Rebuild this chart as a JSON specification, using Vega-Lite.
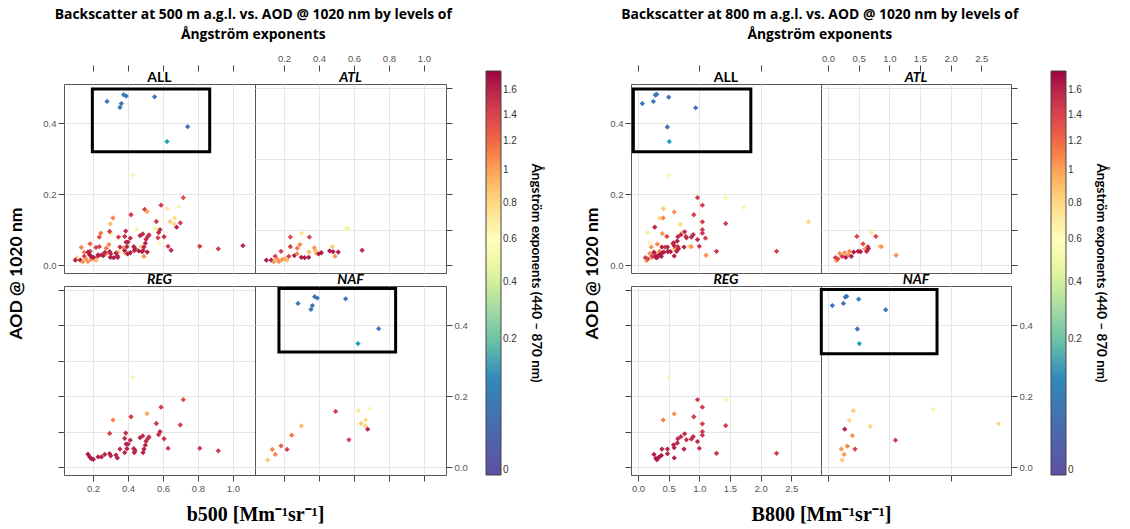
{
  "$schema": "https://vega.github.io/schema/vega-lite/v6.json",
  "padding": {"left": 6, "top": 7, "right": 5, "bottom": 5},
  "config": {
    "view": {"stroke": "#555", "strokeWidth": 1},
    "axis": {"labelFont": "Liberation Sans", "labelFontSize": 9.5, "labelColor": "#555", "tickColor": "#444", "tickSize": 6, "domain": false, "gridColor": "#e6e6e6", "labelFlush": false, "labelOverlap": false, "titleFont": "Lato", "titleFontWeight": "bold", "titleFontSize": 17.5, "titleColor": "#000"},
    "legend": {"labelFont": "Liberation Sans", "labelFontSize": 10, "labelColor": "#333", "labelOffset": 8, "titleFont": "Lato", "titleFontSize": 13.5, "titleFontWeight": "bold", "titleColor": "#000", "titlePadding": 12, "gradientLength": 404, "gradientThickness": 15, "gradientStrokeColor": "#444", "gradientStrokeWidth": 1, "titleLimit": 600},
    "title": {"font": "Open Sans", "fontSize": 13.9, "fontWeight": "bold", "color": "#000", "anchor": "middle", "frame": "bounds", "lineHeight": 20, "offset": 11}
  },
  "datasets": {
    "b500": [
      {"region": "NAF", "b": 0.28, "aod": 0.461, "ae": 0.08},
      {"region": "NAF", "b": 0.375, "aod": 0.48, "ae": 0.08},
      {"region": "NAF", "b": 0.39, "aod": 0.476, "ae": 0.08},
      {"region": "NAF", "b": 0.362, "aod": 0.455, "ae": 0.08},
      {"region": "NAF", "b": 0.354, "aod": 0.444, "ae": 0.08},
      {"region": "NAF", "b": 0.552, "aod": 0.474, "ae": 0.08},
      {"region": "NAF", "b": 0.741, "aod": 0.39, "ae": 0.08},
      {"region": "NAF", "b": 0.623, "aod": 0.348, "ae": 0.13},
      {"region": "NAF", "b": 0.107, "aod": 0.0205, "ae": 0.85},
      {"region": "NAF", "b": 0.133, "aod": 0.05, "ae": 1.1},
      {"region": "NAF", "b": 0.15, "aod": 0.036, "ae": 1.1},
      {"region": "NAF", "b": 0.183, "aod": 0.06, "ae": 1.25},
      {"region": "NAF", "b": 0.217, "aod": 0.05, "ae": 1.43},
      {"region": "NAF", "b": 0.244, "aod": 0.09, "ae": 1.15},
      {"region": "NAF", "b": 0.299, "aod": 0.116, "ae": 0.9},
      {"region": "NAF", "b": 0.495, "aod": 0.157, "ae": 1.43},
      {"region": "NAF", "b": 0.571, "aod": 0.077, "ae": 1.43},
      {"region": "NAF", "b": 0.625, "aod": 0.159, "ae": 0.72},
      {"region": "NAF", "b": 0.69, "aod": 0.164, "ae": 0.65},
      {"region": "NAF", "b": 0.667, "aod": 0.133, "ae": 0.78},
      {"region": "NAF", "b": 0.64, "aod": 0.123, "ae": 0.85},
      {"region": "NAF", "b": 0.663, "aod": 0.116, "ae": 0.8},
      {"region": "NAF", "b": 0.678, "aod": 0.107, "ae": 1.6},
      {"region": "ATL", "b": 0.099, "aod": 0.014, "ae": 1.65},
      {"region": "ATL", "b": 0.127, "aod": 0.014, "ae": 1.65},
      {"region": "ATL", "b": 0.141, "aod": 0.01, "ae": 1.05},
      {"region": "ATL", "b": 0.15, "aod": 0.025, "ae": 1.43},
      {"region": "ATL", "b": 0.16, "aod": 0.018, "ae": 1.05},
      {"region": "ATL", "b": 0.171, "aod": 0.01, "ae": 1.05},
      {"region": "ATL", "b": 0.183, "aod": 0.039, "ae": 1.43},
      {"region": "ATL", "b": 0.19, "aod": 0.016, "ae": 1.05},
      {"region": "ATL", "b": 0.206, "aod": 0.018, "ae": 1.0},
      {"region": "ATL", "b": 0.217, "aod": 0.014, "ae": 0.92},
      {"region": "ATL", "b": 0.227, "aod": 0.025, "ae": 1.43},
      {"region": "ATL", "b": 0.236, "aod": 0.079, "ae": 1.35},
      {"region": "ATL", "b": 0.236, "aod": 0.052, "ae": 1.43},
      {"region": "ATL", "b": 0.259, "aod": 0.027, "ae": 1.65},
      {"region": "ATL", "b": 0.274, "aod": 0.032, "ae": 1.1},
      {"region": "ATL", "b": 0.276, "aod": 0.048, "ae": 1.15},
      {"region": "ATL", "b": 0.291, "aod": 0.058, "ae": 1.1},
      {"region": "ATL", "b": 0.301, "aod": 0.09, "ae": 0.75},
      {"region": "ATL", "b": 0.299, "aod": 0.022, "ae": 1.65},
      {"region": "ATL", "b": 0.318, "aod": 0.021, "ae": 1.65},
      {"region": "ATL", "b": 0.341, "aod": 0.022, "ae": 1.65},
      {"region": "ATL", "b": 0.343, "aod": 0.037, "ae": 0.92},
      {"region": "ATL", "b": 0.345, "aod": 0.079, "ae": 1.4},
      {"region": "ATL", "b": 0.373, "aod": 0.049, "ae": 1.05},
      {"region": "ATL", "b": 0.379, "aod": 0.041, "ae": 0.92},
      {"region": "ATL", "b": 0.385, "aod": 0.033, "ae": 0.92},
      {"region": "ATL", "b": 0.398, "aod": 0.032, "ae": 1.65},
      {"region": "ATL", "b": 0.413, "aod": 0.035, "ae": 1.65},
      {"region": "ATL", "b": 0.461, "aod": 0.04, "ae": 1.65},
      {"region": "ATL", "b": 0.48, "aod": 0.038, "ae": 1.65},
      {"region": "ATL", "b": 0.476, "aod": 0.052, "ae": 0.85},
      {"region": "ATL", "b": 0.491, "aod": 0.025, "ae": 1.05},
      {"region": "ATL", "b": 0.51, "aod": 0.037, "ae": 1.65},
      {"region": "ATL", "b": 0.55, "aod": 0.102, "ae": 0.62},
      {"region": "ATL", "b": 0.562, "aod": 0.103, "ae": 0.48},
      {"region": "ATL", "b": 0.646, "aod": 0.042, "ae": 1.55},
      {"region": "REG", "b": 0.171, "aod": 0.0365, "ae": 1.65},
      {"region": "REG", "b": 0.181, "aod": 0.029, "ae": 1.65},
      {"region": "REG", "b": 0.19, "aod": 0.024, "ae": 1.65},
      {"region": "REG", "b": 0.202, "aod": 0.022, "ae": 1.65},
      {"region": "REG", "b": 0.229, "aod": 0.029, "ae": 1.62},
      {"region": "REG", "b": 0.248, "aod": 0.029, "ae": 1.62},
      {"region": "REG", "b": 0.267, "aod": 0.036, "ae": 1.6},
      {"region": "REG", "b": 0.295, "aod": 0.038, "ae": 1.6},
      {"region": "REG", "b": 0.301, "aod": 0.032, "ae": 1.6},
      {"region": "REG", "b": 0.295, "aod": 0.095, "ae": 1.45},
      {"region": "REG", "b": 0.314, "aod": 0.133, "ae": 1.1},
      {"region": "REG", "b": 0.331, "aod": 0.034, "ae": 1.6},
      {"region": "REG", "b": 0.339, "aod": 0.026, "ae": 1.6},
      {"region": "REG", "b": 0.354, "aod": 0.051, "ae": 1.55},
      {"region": "REG", "b": 0.381, "aod": 0.041, "ae": 1.6},
      {"region": "REG", "b": 0.387, "aod": 0.096, "ae": 1.55},
      {"region": "REG", "b": 0.381, "aod": 0.081, "ae": 1.55},
      {"region": "REG", "b": 0.389, "aod": 0.065, "ae": 1.6},
      {"region": "REG", "b": 0.394, "aod": 0.052, "ae": 1.6},
      {"region": "REG", "b": 0.4, "aod": 0.065, "ae": 1.6},
      {"region": "REG", "b": 0.413, "aod": 0.076, "ae": 1.55},
      {"region": "REG", "b": 0.417, "aod": 0.142, "ae": 1.45},
      {"region": "REG", "b": 0.427, "aod": 0.253, "ae": 0.65},
      {"region": "REG", "b": 0.433, "aod": 0.052, "ae": 1.6},
      {"region": "REG", "b": 0.436, "aod": 0.041, "ae": 1.6},
      {"region": "REG", "b": 0.44, "aod": 0.047, "ae": 1.6},
      {"region": "REG", "b": 0.469, "aod": 0.083, "ae": 1.6},
      {"region": "REG", "b": 0.484, "aod": 0.088, "ae": 1.55},
      {"region": "REG", "b": 0.486, "aod": 0.041, "ae": 1.6},
      {"region": "REG", "b": 0.491, "aod": 0.051, "ae": 1.6},
      {"region": "REG", "b": 0.499, "aod": 0.062, "ae": 1.6},
      {"region": "REG", "b": 0.503, "aod": 0.073, "ae": 1.55},
      {"region": "REG", "b": 0.514, "aod": 0.081, "ae": 1.55},
      {"region": "REG", "b": 0.52, "aod": 0.085, "ae": 1.5},
      {"region": "REG", "b": 0.509, "aod": 0.151, "ae": 1.0},
      {"region": "REG", "b": 0.562, "aod": 0.123, "ae": 1.45},
      {"region": "REG", "b": 0.575, "aod": 0.092, "ae": 1.55},
      {"region": "REG", "b": 0.583, "aod": 0.1, "ae": 1.55},
      {"region": "REG", "b": 0.589, "aod": 0.169, "ae": 1.45},
      {"region": "REG", "b": 0.606, "aod": 0.08, "ae": 1.5},
      {"region": "REG", "b": 0.629, "aod": 0.053, "ae": 1.45},
      {"region": "REG", "b": 0.699, "aod": 0.119, "ae": 1.45},
      {"region": "REG", "b": 0.716, "aod": 0.19, "ae": 1.35},
      {"region": "REG", "b": 0.81, "aod": 0.053, "ae": 1.45},
      {"region": "REG", "b": 0.916, "aod": 0.046, "ae": 1.45},
      {"region": "OTH", "b": 1.057, "aod": 0.055, "ae": 1.6},
      {"region": "OTH", "b": 0.58, "aod": 0.061, "ae": 0.62},
      {"region": "OTH", "b": 0.451, "aod": 0.1, "ae": 0.5}
    ],
    "b800": [
      {"region": "NAF", "b": 0.07, "aod": 0.455, "ae": 0.08},
      {"region": "NAF", "b": 0.25, "aod": 0.461, "ae": 0.08},
      {"region": "NAF", "b": 0.282, "aod": 0.479, "ae": 0.08},
      {"region": "NAF", "b": 0.305, "aod": 0.481, "ae": 0.08},
      {"region": "NAF", "b": 0.5, "aod": 0.473, "ae": 0.08},
      {"region": "NAF", "b": 0.94, "aod": 0.443, "ae": 0.08},
      {"region": "NAF", "b": 0.478, "aod": 0.389, "ae": 0.08},
      {"region": "NAF", "b": 0.51, "aod": 0.348, "ae": 0.13},
      {"region": "NAF", "b": 0.228, "aod": 0.02, "ae": 0.85},
      {"region": "NAF", "b": 0.261, "aod": 0.036, "ae": 1.05},
      {"region": "NAF", "b": 0.217, "aod": 0.051, "ae": 1.05},
      {"region": "NAF", "b": 0.315, "aod": 0.059, "ae": 1.1},
      {"region": "NAF", "b": 0.44, "aod": 0.051, "ae": 1.43},
      {"region": "NAF", "b": 0.397, "aod": 0.089, "ae": 1.05},
      {"region": "NAF", "b": 0.272, "aod": 0.107, "ae": 1.6},
      {"region": "NAF", "b": 0.348, "aod": 0.132, "ae": 0.8},
      {"region": "NAF", "b": 0.413, "aod": 0.159, "ae": 0.85},
      {"region": "NAF", "b": 0.69, "aod": 0.115, "ae": 0.8},
      {"region": "NAF", "b": 1.1, "aod": 0.076, "ae": 1.43},
      {"region": "NAF", "b": 1.72, "aod": 0.163, "ae": 0.65},
      {"region": "NAF", "b": 2.78, "aod": 0.122, "ae": 0.8},
      {"region": "ATL", "b": 0.12, "aod": 0.021, "ae": 1.45},
      {"region": "ATL", "b": 0.14, "aod": 0.013, "ae": 1.05},
      {"region": "ATL", "b": 0.16, "aod": 0.018, "ae": 1.4},
      {"region": "ATL", "b": 0.19, "aod": 0.033, "ae": 1.05},
      {"region": "ATL", "b": 0.23, "aod": 0.025, "ae": 1.45},
      {"region": "ATL", "b": 0.27, "aod": 0.035, "ae": 1.05},
      {"region": "ATL", "b": 0.29, "aod": 0.022, "ae": 1.65},
      {"region": "ATL", "b": 0.33, "aod": 0.029, "ae": 1.05},
      {"region": "ATL", "b": 0.35, "aod": 0.039, "ae": 1.1},
      {"region": "ATL", "b": 0.38, "aod": 0.025, "ae": 1.65},
      {"region": "ATL", "b": 0.42, "aod": 0.037, "ae": 1.65},
      {"region": "ATL", "b": 0.47, "aod": 0.081, "ae": 1.4},
      {"region": "ATL", "b": 0.49, "aod": 0.039, "ae": 1.65},
      {"region": "ATL", "b": 0.53, "aod": 0.038, "ae": 1.65},
      {"region": "ATL", "b": 0.57, "aod": 0.06, "ae": 1.35},
      {"region": "ATL", "b": 0.6, "aod": 0.046, "ae": 1.0},
      {"region": "ATL", "b": 0.63, "aod": 0.039, "ae": 1.6},
      {"region": "ATL", "b": 0.65, "aod": 0.052, "ae": 1.45},
      {"region": "ATL", "b": 0.66, "aod": 0.046, "ae": 1.6},
      {"region": "ATL", "b": 0.71, "aod": 0.092, "ae": 0.72},
      {"region": "ATL", "b": 0.78, "aod": 0.081, "ae": 1.4},
      {"region": "ATL", "b": 0.84, "aod": 0.053, "ae": 0.8},
      {"region": "ATL", "b": 0.87, "aod": 0.052, "ae": 1.05},
      {"region": "ATL", "b": 1.11, "aod": 0.028, "ae": 1.05},
      {"region": "REG", "b": 0.26, "aod": 0.036, "ae": 1.65},
      {"region": "REG", "b": 0.29, "aod": 0.025, "ae": 1.65},
      {"region": "REG", "b": 0.31, "aod": 0.021, "ae": 1.65},
      {"region": "REG", "b": 0.34, "aod": 0.028, "ae": 1.65},
      {"region": "REG", "b": 0.38, "aod": 0.033, "ae": 1.65},
      {"region": "REG", "b": 0.39, "aod": 0.051, "ae": 1.6},
      {"region": "REG", "b": 0.41, "aod": 0.133, "ae": 1.1},
      {"region": "REG", "b": 0.48, "aod": 0.038, "ae": 1.6},
      {"region": "REG", "b": 0.48, "aod": 0.051, "ae": 1.6},
      {"region": "REG", "b": 0.5, "aod": 0.253, "ae": 0.65},
      {"region": "REG", "b": 0.58, "aod": 0.063, "ae": 1.6},
      {"region": "REG", "b": 0.59, "aod": 0.055, "ae": 1.6},
      {"region": "REG", "b": 0.59, "aod": 0.026, "ae": 1.6},
      {"region": "REG", "b": 0.59, "aod": 0.15, "ae": 1.05},
      {"region": "REG", "b": 0.64, "aod": 0.068, "ae": 1.6},
      {"region": "REG", "b": 0.65, "aod": 0.08, "ae": 1.55},
      {"region": "REG", "b": 0.7, "aod": 0.086, "ae": 1.55},
      {"region": "REG", "b": 0.75, "aod": 0.051, "ae": 1.6},
      {"region": "REG", "b": 0.76, "aod": 0.094, "ae": 1.55},
      {"region": "REG", "b": 0.79, "aod": 0.077, "ae": 1.55},
      {"region": "REG", "b": 0.87, "aod": 0.079, "ae": 1.55},
      {"region": "REG", "b": 0.9, "aod": 0.086, "ae": 1.55},
      {"region": "REG", "b": 0.91, "aod": 0.142, "ae": 1.45},
      {"region": "REG", "b": 0.97, "aod": 0.072, "ae": 1.55},
      {"region": "REG", "b": 0.97, "aod": 0.19, "ae": 1.45},
      {"region": "REG", "b": 1.0, "aod": 0.053, "ae": 1.5},
      {"region": "REG", "b": 1.05, "aod": 0.169, "ae": 1.45},
      {"region": "REG", "b": 1.05, "aod": 0.122, "ae": 1.45},
      {"region": "REG", "b": 1.05, "aod": 0.1, "ae": 1.45},
      {"region": "REG", "b": 1.05, "aod": 0.09, "ae": 1.5},
      {"region": "REG", "b": 1.28, "aod": 0.039, "ae": 1.5},
      {"region": "REG", "b": 1.43, "aod": 0.19, "ae": 0.65},
      {"region": "REG", "b": 1.43, "aod": 0.117, "ae": 1.45},
      {"region": "REG", "b": 2.26, "aod": 0.039, "ae": 1.45},
      {"region": "OTH", "b": 0.16, "aod": 0.091, "ae": 0.45},
      {"region": "OTH", "b": 0.18, "aod": 0.063, "ae": 0.65}
    ],
    "boxes": [
      {"chart": "L", "panel": "ALL", "x1": 0.196, "x2": 0.867, "y1": 0.319, "y2": 0.496},
      {"chart": "L", "panel": "NAF", "x1": 0.171, "x2": 0.838, "y1": 0.324, "y2": 0.503},
      {"chart": "R", "panel": "ALL", "x1": -0.077, "x2": 1.84, "y1": 0.319, "y2": 0.496},
      {"chart": "R", "panel": "NAF", "x1": -0.11, "x2": 1.778, "y1": 0.319, "y2": 0.5}
    ]
  },
  "hconcat": [
    {
      "title": {"text": ["Backscatter at 500 m a.g.l. vs. AOD @ 1020 nm by levels of", "Ångström exponents"], "dx": -22},
      "columns": 2,
      "spacing": 0,
      "bounds": "flush",
      "concat": [
        {"width": 191, "height": 13, "data": {"values": [{"p": "ALL"}]}, "mark": {"type": "text", "font": "Lato", "fontSize": 14, "fontWeight": "bold"}, "encoding": {"text": {"field": "p"}}},
        {"width": 191, "height": 13, "data": {"values": [{"p": "ATL"}]}, "mark": {"type": "text", "font": "Lato", "fontSize": 14, "fontWeight": "bold", "fontStyle": "italic"}, "encoding": {"text": {"field": "p"}}},
        {
          "width": 191, "height": 189,
          "layer": [
            {"data": {"name": "b500"}, "mark": {"type": "point", "shape": "diamond", "filled": true, "size": 28, "opacity": 1},
             "encoding": {
               "x": {"field": "b", "type": "quantitative", "scale": {"domain": [0.034, 1.126], "nice": false, "zero": false}, "axis": {"orient": "top", "offset": 13, "values": [0.2, 0.4, 0.6, 0.8, 1.0], "labels": false, "title": null, "grid": true}},
               "y": {"field": "aod", "type": "quantitative", "scale": {"domain": [-0.022, 0.51], "nice": false, "zero": false}, "axis": {"orient": "left", "values": [0, 0.1, 0.2, 0.3, 0.4, 0.5], "labelExpr": "datum.value > 0.45 ? '' : format(datum.value, '.1f')", "title": "AOD @ 1020 nm", "titleX": -48, "titleY": 189, "titleAngle": 270, "titleAlign": "center", "titleBaseline": "middle", "grid": true}},
               "color": {"field": "ae", "type": "quantitative", "title": "Ångström exponents (440 – 870 nm)", "scale": {"type": "sqrt", "domain": [0, 0.051, 0.1, 0.19, 0.31, 0.44, 0.59, 0.77, 0.96, 1.18, 1.43, 1.76], "range": ["#5E4FA2", "#5E4FA2", "#3288BD", "#66C2A5", "#ABDDA4", "#E6F598", "#FFFFBF", "#FEE08B", "#FDAE61", "#F46D43", "#D53E4F", "#9E0142"]}, "legend": {"values": [0, 0.2, 0.4, 0.6, 0.8, 1, 1.2, 1.4, 1.6], "labelExpr": "format(datum.value, '~g')", "titleOrient": "right", "titleAnchor": "middle", "encode": {"title": {"update": {"angle": {"value": -90}, "baseline": {"value": "top"}}}}}}
             }},
            {"data": {"name": "boxes"}, "transform": [{"filter": "datum.chart == 'L' && datum.panel == 'ALL'"}], "mark": {"type": "rect", "filled": false, "stroke": "#000", "strokeWidth": 3},
             "encoding": {"x": {"field": "x1", "type": "quantitative"}, "x2": {"field": "x2"}, "y": {"field": "y1", "type": "quantitative"}, "y2": {"field": "y2"}}}
          ]
        },
        {
          "width": 191, "height": 189,
          "layer": [
            {"data": {"name": "b500"}, "transform": [{"filter": "datum.region == 'ATL'"}], "mark": {"type": "point", "shape": "diamond", "filled": true, "size": 28, "opacity": 1},
             "encoding": {
               "x": {"field": "b", "type": "quantitative", "scale": {"domain": [0.034, 1.126], "nice": false, "zero": false}, "axis": {"orient": "top", "offset": 13, "values": [0.2, 0.4, 0.6, 0.8, 1.0], "format": ".1f", "title": null, "grid": true}},
               "y": {"field": "aod", "type": "quantitative", "scale": {"domain": [-0.022, 0.51], "nice": false, "zero": false}, "axis": {"orient": "right", "values": [0, 0.1, 0.2, 0.3, 0.4, 0.5], "labels": false, "title": null, "grid": true}},
               "color": {"field": "ae", "type": "quantitative", "title": "Ångström exponents (440 – 870 nm)", "scale": {"type": "sqrt", "domain": [0, 0.051, 0.1, 0.19, 0.31, 0.44, 0.59, 0.77, 0.96, 1.18, 1.43, 1.76], "range": ["#5E4FA2", "#5E4FA2", "#3288BD", "#66C2A5", "#ABDDA4", "#E6F598", "#FFFFBF", "#FEE08B", "#FDAE61", "#F46D43", "#D53E4F", "#9E0142"]}}
             }}
          ]
        },
        {"width": 191, "height": 13, "data": {"values": [{"p": "REG"}]}, "mark": {"type": "text", "font": "Lato", "fontSize": 14, "fontWeight": "bold", "fontStyle": "italic"}, "encoding": {"text": {"field": "p"}}},
        {"width": 191, "height": 13, "data": {"values": [{"p": "NAF"}]}, "mark": {"type": "text", "font": "Lato", "fontSize": 14, "fontWeight": "bold", "fontStyle": "italic"}, "encoding": {"text": {"field": "p"}}},
        {
          "width": 191, "height": 189,
          "layer": [
            {"data": {"name": "b500"}, "transform": [{"filter": "datum.region == 'REG'"}], "mark": {"type": "point", "shape": "diamond", "filled": true, "size": 28, "opacity": 1},
             "encoding": {
               "x": {"field": "b", "type": "quantitative", "scale": {"domain": [0.034, 1.126], "nice": false, "zero": false}, "axis": {"orient": "bottom", "values": [0.2, 0.4, 0.6, 0.8, 1.0], "format": ".1f", "title": "b500 [Mm⁻¹sr⁻¹]", "titleFont": "Liberation Serif", "titleFontSize": 20, "titleX": 191, "titleY": 39, "titleAlign": "center", "titleBaseline": "middle", "grid": true}},
               "y": {"field": "aod", "type": "quantitative", "scale": {"domain": [-0.022, 0.51], "nice": false, "zero": false}, "axis": {"orient": "left", "values": [0, 0.1, 0.2, 0.3, 0.4, 0.5], "labels": false, "title": null, "grid": true}},
               "color": {"field": "ae", "type": "quantitative", "title": "Ångström exponents (440 – 870 nm)", "scale": {"type": "sqrt", "domain": [0, 0.051, 0.1, 0.19, 0.31, 0.44, 0.59, 0.77, 0.96, 1.18, 1.43, 1.76], "range": ["#5E4FA2", "#5E4FA2", "#3288BD", "#66C2A5", "#ABDDA4", "#E6F598", "#FFFFBF", "#FEE08B", "#FDAE61", "#F46D43", "#D53E4F", "#9E0142"]}}
             }}
          ]
        },
        {
          "width": 191, "height": 189,
          "layer": [
            {"data": {"name": "b500"}, "transform": [{"filter": "datum.region == 'NAF'"}], "mark": {"type": "point", "shape": "diamond", "filled": true, "size": 28, "opacity": 1},
             "encoding": {
               "x": {"field": "b", "type": "quantitative", "scale": {"domain": [0.034, 1.126], "nice": false, "zero": false}, "axis": {"orient": "bottom", "values": [0.2, 0.4, 0.6, 0.8, 1.0], "labels": false, "title": null, "grid": true}},
               "y": {"field": "aod", "type": "quantitative", "scale": {"domain": [-0.022, 0.51], "nice": false, "zero": false}, "axis": {"orient": "right", "values": [0, 0.1, 0.2, 0.3, 0.4, 0.5], "labelExpr": "datum.value > 0.45 ? '' : format(datum.value, '.1f')", "title": null, "grid": true}},
               "color": {"field": "ae", "type": "quantitative", "title": "Ångström exponents (440 – 870 nm)", "scale": {"type": "sqrt", "domain": [0, 0.051, 0.1, 0.19, 0.31, 0.44, 0.59, 0.77, 0.96, 1.18, 1.43, 1.76], "range": ["#5E4FA2", "#5E4FA2", "#3288BD", "#66C2A5", "#ABDDA4", "#E6F598", "#FFFFBF", "#FEE08B", "#FDAE61", "#F46D43", "#D53E4F", "#9E0142"]}}
             }},
            {"data": {"name": "boxes"}, "transform": [{"filter": "datum.chart == 'L' && datum.panel == 'NAF'"}], "mark": {"type": "rect", "filled": false, "stroke": "#000", "strokeWidth": 3},
             "encoding": {"x": {"field": "x1", "type": "quantitative"}, "x2": {"field": "x2"}, "y": {"field": "y1", "type": "quantitative"}, "y2": {"field": "y2"}}}
          ]
        }
      ]
    },
    {
      "title": {"text": ["Backscatter at 800 m a.g.l. vs. AOD @ 1020 nm by levels of", "Ångström exponents"], "dx": -26},
      "columns": 2,
      "spacing": 0,
      "bounds": "flush",
      "concat": [
        {"width": 190, "height": 13, "data": {"values": [{"p": "ALL"}]}, "mark": {"type": "text", "font": "Lato", "fontSize": 14, "fontWeight": "bold"}, "encoding": {"text": {"field": "p"}}},
        {"width": 190, "height": 13, "data": {"values": [{"p": "ATL"}]}, "mark": {"type": "text", "font": "Lato", "fontSize": 14, "fontWeight": "bold", "fontStyle": "italic"}, "encoding": {"text": {"field": "p"}}},
        {
          "width": 190, "height": 189,
          "layer": [
            {"data": {"name": "b800"}, "mark": {"type": "point", "shape": "diamond", "filled": true, "size": 28, "opacity": 1},
             "encoding": {
               "x": {"field": "b", "type": "quantitative", "scale": {"domain": [-0.115, 2.985], "nice": false, "zero": false}, "axis": {"orient": "top", "offset": 13, "values": [0, 0.5, 1, 1.5, 2, 2.5], "labels": false, "title": null, "grid": true}},
               "y": {"field": "aod", "type": "quantitative", "scale": {"domain": [-0.022, 0.51], "nice": false, "zero": false}, "axis": {"orient": "left", "values": [0, 0.1, 0.2, 0.3, 0.4, 0.5], "labelExpr": "datum.value > 0.45 ? '' : format(datum.value, '.1f')", "title": "AOD @ 1020 nm", "titleX": -39, "titleY": 189, "titleAngle": 270, "titleAlign": "center", "titleBaseline": "middle", "grid": true}},
               "color": {"field": "ae", "type": "quantitative", "title": "Ångström exponents (440 – 870 nm)", "scale": {"type": "sqrt", "domain": [0, 0.051, 0.1, 0.19, 0.31, 0.44, 0.59, 0.77, 0.96, 1.18, 1.43, 1.76], "range": ["#5E4FA2", "#5E4FA2", "#3288BD", "#66C2A5", "#ABDDA4", "#E6F598", "#FFFFBF", "#FEE08B", "#FDAE61", "#F46D43", "#D53E4F", "#9E0142"]}, "legend": {"values": [0, 0.2, 0.4, 0.6, 0.8, 1, 1.2, 1.4, 1.6], "labelExpr": "format(datum.value, '~g')", "titleOrient": "right", "titleAnchor": "middle", "encode": {"title": {"update": {"angle": {"value": -90}, "baseline": {"value": "top"}}}}}}
             }},
            {"data": {"name": "boxes"}, "transform": [{"filter": "datum.chart == 'R' && datum.panel == 'ALL'"}], "mark": {"type": "rect", "filled": false, "stroke": "#000", "strokeWidth": 3},
             "encoding": {"x": {"field": "x1", "type": "quantitative"}, "x2": {"field": "x2"}, "y": {"field": "y1", "type": "quantitative"}, "y2": {"field": "y2"}}}
          ]
        },
        {
          "width": 190, "height": 189,
          "layer": [
            {"data": {"name": "b800"}, "transform": [{"filter": "datum.region == 'ATL'"}], "mark": {"type": "point", "shape": "diamond", "filled": true, "size": 28, "opacity": 1},
             "encoding": {
               "x": {"field": "b", "type": "quantitative", "scale": {"domain": [-0.115, 2.985], "nice": false, "zero": false}, "axis": {"orient": "top", "offset": 13, "values": [0, 0.5, 1, 1.5, 2, 2.5], "format": ".1f", "title": null, "grid": true}},
               "y": {"field": "aod", "type": "quantitative", "scale": {"domain": [-0.022, 0.51], "nice": false, "zero": false}, "axis": {"orient": "right", "values": [0, 0.1, 0.2, 0.3, 0.4, 0.5], "labels": false, "title": null, "grid": true}},
               "color": {"field": "ae", "type": "quantitative", "title": "Ångström exponents (440 – 870 nm)", "scale": {"type": "sqrt", "domain": [0, 0.051, 0.1, 0.19, 0.31, 0.44, 0.59, 0.77, 0.96, 1.18, 1.43, 1.76], "range": ["#5E4FA2", "#5E4FA2", "#3288BD", "#66C2A5", "#ABDDA4", "#E6F598", "#FFFFBF", "#FEE08B", "#FDAE61", "#F46D43", "#D53E4F", "#9E0142"]}}
             }}
          ]
        },
        {"width": 190, "height": 13, "data": {"values": [{"p": "REG"}]}, "mark": {"type": "text", "font": "Lato", "fontSize": 14, "fontWeight": "bold", "fontStyle": "italic"}, "encoding": {"text": {"field": "p"}}},
        {"width": 190, "height": 13, "data": {"values": [{"p": "NAF"}]}, "mark": {"type": "text", "font": "Lato", "fontSize": 14, "fontWeight": "bold", "fontStyle": "italic"}, "encoding": {"text": {"field": "p"}}},
        {
          "width": 190, "height": 189,
          "layer": [
            {"data": {"name": "b800"}, "transform": [{"filter": "datum.region == 'REG'"}], "mark": {"type": "point", "shape": "diamond", "filled": true, "size": 28, "opacity": 1},
             "encoding": {
               "x": {"field": "b", "type": "quantitative", "scale": {"domain": [-0.115, 2.985], "nice": false, "zero": false}, "axis": {"orient": "bottom", "values": [0, 0.5, 1, 1.5, 2, 2.5], "format": ".1f", "title": "B800 [Mm⁻¹sr⁻¹]", "titleFont": "Liberation Serif", "titleFontSize": 20, "titleX": 190, "titleY": 39, "titleAlign": "center", "titleBaseline": "middle", "grid": true}},
               "y": {"field": "aod", "type": "quantitative", "scale": {"domain": [-0.022, 0.51], "nice": false, "zero": false}, "axis": {"orient": "left", "values": [0, 0.1, 0.2, 0.3, 0.4, 0.5], "labels": false, "title": null, "grid": true}},
               "color": {"field": "ae", "type": "quantitative", "title": "Ångström exponents (440 – 870 nm)", "scale": {"type": "sqrt", "domain": [0, 0.051, 0.1, 0.19, 0.31, 0.44, 0.59, 0.77, 0.96, 1.18, 1.43, 1.76], "range": ["#5E4FA2", "#5E4FA2", "#3288BD", "#66C2A5", "#ABDDA4", "#E6F598", "#FFFFBF", "#FEE08B", "#FDAE61", "#F46D43", "#D53E4F", "#9E0142"]}}
             }}
          ]
        },
        {
          "width": 190, "height": 189,
          "layer": [
            {"data": {"name": "b800"}, "transform": [{"filter": "datum.region == 'NAF'"}], "mark": {"type": "point", "shape": "diamond", "filled": true, "size": 28, "opacity": 1},
             "encoding": {
               "x": {"field": "b", "type": "quantitative", "scale": {"domain": [-0.115, 2.985], "nice": false, "zero": false}, "axis": {"orient": "bottom", "values": [0, 0.5, 1, 1.5, 2, 2.5], "labels": false, "title": null, "grid": true}},
               "y": {"field": "aod", "type": "quantitative", "scale": {"domain": [-0.022, 0.51], "nice": false, "zero": false}, "axis": {"orient": "right", "values": [0, 0.1, 0.2, 0.3, 0.4, 0.5], "labelExpr": "datum.value > 0.45 ? '' : format(datum.value, '.1f')", "title": null, "grid": true}},
               "color": {"field": "ae", "type": "quantitative", "title": "Ångström exponents (440 – 870 nm)", "scale": {"type": "sqrt", "domain": [0, 0.051, 0.1, 0.19, 0.31, 0.44, 0.59, 0.77, 0.96, 1.18, 1.43, 1.76], "range": ["#5E4FA2", "#5E4FA2", "#3288BD", "#66C2A5", "#ABDDA4", "#E6F598", "#FFFFBF", "#FEE08B", "#FDAE61", "#F46D43", "#D53E4F", "#9E0142"]}}
             }},
            {"data": {"name": "boxes"}, "transform": [{"filter": "datum.chart == 'R' && datum.panel == 'NAF'"}], "mark": {"type": "rect", "filled": false, "stroke": "#000", "strokeWidth": 3},
             "encoding": {"x": {"field": "x1", "type": "quantitative"}, "x2": {"field": "x2"}, "y": {"field": "y1", "type": "quantitative"}, "y2": {"field": "y2"}}}
          ]
        }
      ]
    }
  ],
  "spacing": 38,
  "resolve": {"scale": {"color": "independent"}}
}
